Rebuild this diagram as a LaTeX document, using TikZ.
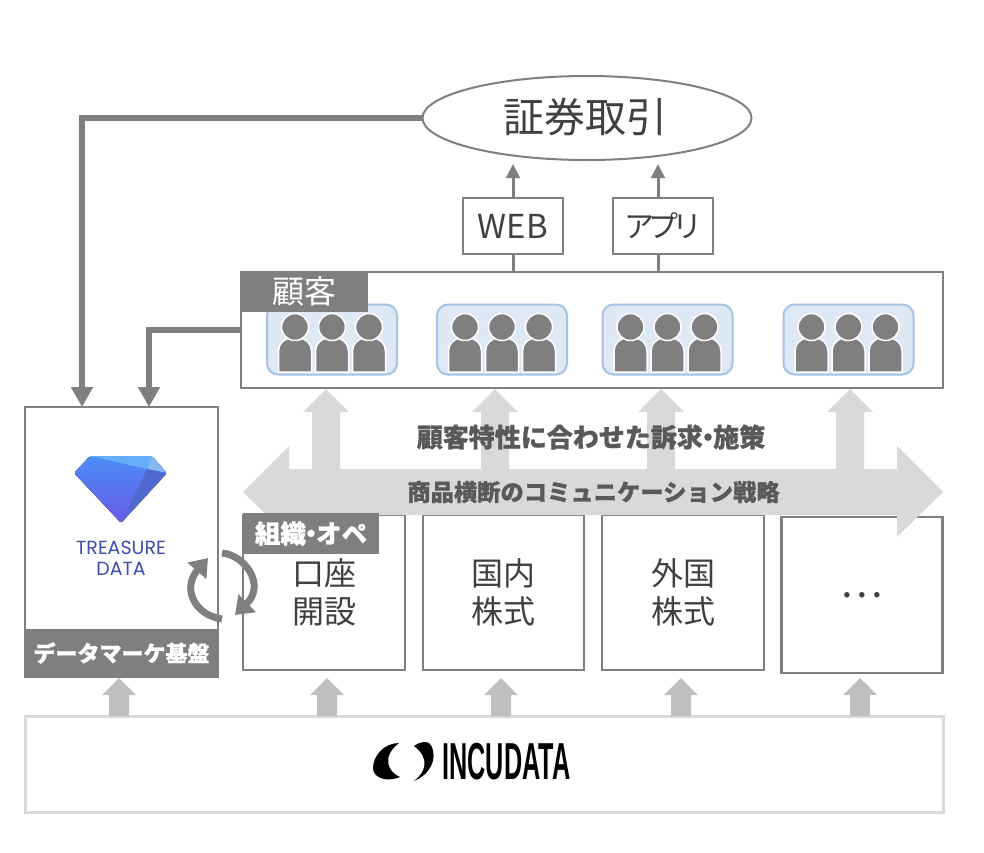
\documentclass[tikz,border=0pt]{standalone}
\usepackage{fontspec}
\setmainfont{Noto Sans CJK JP}[BoldFeatures={FakeBold=0.8}]
\newfontfamily\logofont{Liberation Sans}
\newfontfamily\tdfont{Poppins}
\usetikzlibrary{arrows.meta, shapes.geometric}
\definecolor{linegray}{HTML}{7f7f7f}
\definecolor{darktext}{HTML}{404040}
\definecolor{midtext}{HTML}{595959}
\definecolor{flowgray}{HTML}{d9d9d9}
\definecolor{feedgray}{HTML}{bfbfbf}
\definecolor{groupfill}{HTML}{dfe9f6}
\definecolor{groupline}{HTML}{a5c3e6}
\definecolor{tdblue}{HTML}{3a4db0}
\definecolor{gemtop}{HTML}{4b8df6}
\definecolor{gembottom}{HTML}{6b5ae6}
\definecolor{gemlight}{HTML}{64aef9}
\definecolor{gempale}{HTML}{86b8f0}
\definecolor{gemside}{HTML}{5068d0}

\begin{document}
\begin{tikzpicture}[
    x=1pt, y=-1pt,
    box/.style={draw=linegray, line width=2.5pt, fill=white, inner sep=0pt, outer sep=0pt, text=darktext, align=center, font=\fontsize{32}{38}\selectfont},
    tag/.style={fill=linegray, inner sep=0pt, outer sep=0pt, text=white},
    thickarrow/.style={draw=linegray, line width=6.5pt, -{Triangle[length=20pt, width=21pt]}},
    thinarrow/.style={draw=linegray, line width=3pt, -{Triangle[length=14pt, width=13.5pt]}},
    cyclearrow/.style={draw=linegray, line width=7pt, -{Triangle[length=17pt, width=24pt]}},
    group/.style={draw=groupline, line width=2pt, fill=groupfill, rounded corners=11pt, minimum width=130pt, minimum height=70pt, inner sep=0pt},
    person/.pic={
        \fill[linegray, draw=white, line width=1.5pt, rounded corners=13pt] (-16.5,32.5) -- (-16.5,-1.5) -- (16.5,-1.5) [sharp corners] -- (16.5,32.5) -- cycle;
        \fill[linegray, draw=white, line width=1.5pt] (0,-12.5) circle (13.5);
    },
    crowd/.pic={
        \pic at (-37,0) {person};
        \pic at (0,0) {person};
        \pic at (37,0) {person};
    },
    flowup/.pic={
        \fill[flowgray] (0,0) -- (23,23) -- (14,23) -- (14,82) -- (-14,82) -- (-14,23) -- (-23,23) -- cycle;
    },
    dataup/.pic={
        \fill[feedgray] (0,0) -- (17,17) -- (10,17) -- (10,38) -- (-10,38) -- (-10,17) -- (-17,17) -- cycle;
    },
]
\useasboundingbox (0,0) rectangle (984,852);

% ── Top row ──
\node[draw=linegray, line width=2pt, ellipse, fill=white, minimum width=329pt, minimum height=84pt, inner sep=0pt, outer sep=0pt] (trade) at (587,118) {};
\node[inner sep=0pt, text=darktext, font=\fontsize{41}{48}\selectfont] (tradename) at (585,117) {証券取引};
\node[box, minimum width=100pt, minimum height=56pt, font=\fontsize{33}{36}\selectfont] (web) at (513,226) {WEB};
\node[box, minimum width=100pt, minimum height=56pt, font=\fontsize{30}{36}\selectfont] (app) at (663,226) {ア\kern-6pt プ\kern-6pt リ};
\coordinate (webtip) at (513,164);
\coordinate (apptip) at (658,164);
\draw[thinarrow] (web.north -| webtip) -- (webtip);
\draw[thinarrow] (app.north -| apptip) -- (apptip);

% ── Customers ──
\node[box, minimum width=702pt, minimum height=116pt] (customers) at (592,330) {};
\draw[linegray, line width=3pt] (web.south) -- (web.south |- customers.north);
\draw[linegray, line width=3pt] (app.south -| apptip) -- (apptip |- customers.north);
\node[group] (group1) at (332,339.5) {};
\node[group] (group2) at (502,339.5) {};
\node[group] (group3) at (667.5,339.5) {};
\node[group] (group4) at (848.5,339.5) {};
\pic at (group1.center) {crowd};
\pic at (group2.center) {crowd};
\pic at (group3.center) {crowd};
\pic at (group4.center) {crowd};
\node[tag, minimum width=127pt, minimum height=40pt] (customertag) at (304,291.5) {\fontsize{32}{36}\selectfont 顧客};

% ── Data platform ──
\node[box, minimum width=193pt, minimum height=270pt] (platform) at (121.5,542) {};
\node[tag, minimum width=195pt, minimum height=49pt, font=\bfseries\fontsize{22}{26}\selectfont] (platformtag) at (121.5,653) {データマーケ基盤};
\coordinate (in1) at (82,407);
\coordinate (in2) at (149,407);
\draw[thickarrow] (trade.west) -| (in1);
\draw[thickarrow] (customers.west |- 0,330) -| (in2);

% logo
\fill[rounded corners=2pt, top color=gemtop, bottom color=gembottom] (90,456) -- (152,456) -- (167,473) -- (121,523) -- (74,473) -- cycle;
\fill[rounded corners=1pt, gemlight] (90,456) -- (152,456) -- (147,469) -- cycle;
\fill[rounded corners=1pt, gempale] (152,456) -- (167,473) -- (147,469) -- cycle;
\fill[rounded corners=1pt, gemside] (147,469) -- (167,473) -- (121,523) -- cycle;
\node[inner sep=0pt, text=tdblue, align=center, font=\tdfont\fontsize{19}{21}\selectfont] (tdname) at (121,558.5) {TREASURE\\DATA};

% ── Product boxes ──
\node[box, minimum width=162pt, minimum height=155pt] (account) at (324,592.5) {口座\\開設};
\node[box, minimum width=161pt, minimum height=155pt] (domestic) at (503.5,592.5) {国内\\株式};
\node[box, minimum width=162pt, minimum height=155pt] (foreign) at (683,592.5) {外国\\株式};
\node[box, minimum width=161pt, minimum height=156pt, font=\fontsize{40}{44}\selectfont] (others) at (862,595) {\raisebox{-4pt}{…}};

% ── Communication flow ──
\pic at (326,389) {flowup};
\pic at (495,389) {flowup};
\pic at (661,389) {flowup};
\pic at (850,389) {flowup};
\fill[flowgray] (243,492) -- (289,446) -- (289,469) -- (897,469) -- (897,446) -- (943,492) -- (897,537) -- (897,515) -- (289,515) -- (289,537) -- cycle;
\node[inner sep=0pt, text=midtext, font=\bfseries\fontsize{26}{30}\selectfont] (appeal) at (591,437) {顧客特性に合わせた訴求\kern-.3em・\kern-.3em 施策};
\node[inner sep=0pt, text=midtext, font=\bfseries\fontsize{23.3}{30}\selectfont] (strategy) at (593.5,492) {商品横断のコミュニケーション戦略};
\node[tag, minimum width=136pt, minimum height=41pt, font=\bfseries\fontsize{25.5}{30}\selectfont] (orgtag) at (311,533.5) {組織\kern-.3em・\kern-.3em オペ};

% ── Cycle ──
\coordinate (cycleA) at (222,619);
\coordinate (cycleB) at (208,558);
\coordinate (cycleC) at (222,553);
\coordinate (cycleD) at (235,615);
\draw[cyclearrow] (cycleA) .. controls (194,615) and (182,588) .. (cycleB);
\draw[cyclearrow] (cycleC) .. controls (245,555) and (266,585) .. (cycleD);

% ── Incudata ──
\node[draw=flowgray, line width=3pt, minimum width=918pt, minimum height=96pt, inner sep=0pt, outer sep=0pt] (incudata) at (484,764) {};
\pic at (119,678) {dataup};
\pic at (327,678) {dataup};
\pic at (501,678) {dataup};
\pic at (681,678) {dataup};
\pic at (860,678) {dataup};
\fill[black] (399,743) .. controls (384,743) and (373,756) .. (373,768) .. controls (373,777) and (385,783) .. (400,777) .. controls (388,772) and (381,757) .. cycle;
\fill[black] (414,746) .. controls (419,742) and (426,741) .. (429,743) .. controls (437,750) and (436,772) .. (414,781) .. controls (426,772) and (430,758) .. cycle;
\node[inner sep=0pt, text=black, font=\logofont\bfseries\fontsize{52}{52}\selectfont] (incudataname) at (506.5,761.5) {\scalebox{.485}[1]{INCUDATA}};

\end{tikzpicture}
\end{document}
